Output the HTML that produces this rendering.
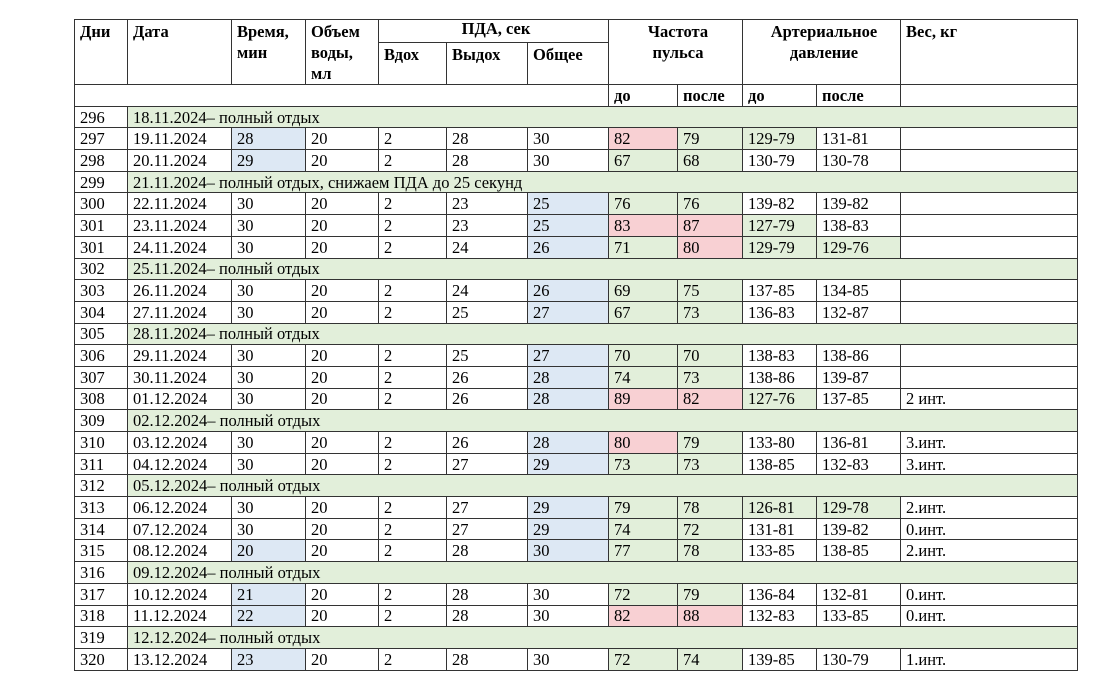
<!DOCTYPE html>
<html><head><meta charset="utf-8"><style>
html,body{margin:0;padding:0;background:#fff;width:1100px;height:682px;overflow:hidden}
table{position:absolute;left:74px;top:19px;border-collapse:collapse;table-layout:fixed;font-family:"Liberation Serif","Noto Serif CJK SC",serif;font-size:16.5px;color:#000;border:1.5px solid #333}
td{border:1px solid #333;padding:0 0 0 5px;height:20.7px;line-height:17px;white-space:nowrap;overflow:hidden;vertical-align:middle}
.h td{font-weight:bold;vertical-align:top;padding-top:1px;line-height:21px}
.h2 td{font-weight:bold;line-height:17px}
.c{text-align:center}
.g{background:#e2efda}.b{background:#dde8f4}.p{background:#f8d0d3}
</style></head><body>
<table>
<colgroup><col style="width:53px"><col style="width:104px"><col style="width:74px"><col style="width:73px"><col style="width:68px"><col style="width:81px"><col style="width:81px"><col style="width:69px"><col style="width:65px"><col style="width:74px"><col style="width:84px"><col style="width:177px"></colgroup>
<tr class="h" style="height:22px"><td rowspan="2">Дни</td><td rowspan="2">Дата</td><td rowspan="2">Время,<br>мин</td><td rowspan="2">Объем<br>воды,<br>мл</td><td colspan="3" class="c" style="height:20px;line-height:18px;padding-top:0">ПДА, сек</td><td colspan="2" rowspan="2" class="c">Частота<br>пульса</td><td colspan="2" rowspan="2" class="c">Артериальное<br>давление</td><td rowspan="2">Вес, кг</td></tr>
<tr class="h" style="height:40px"><td>Вдох</td><td>Выдох</td><td>Общее</td></tr>
<tr class="h2"><td colspan="7"></td><td>до</td><td>после</td><td>до</td><td>после</td><td></td></tr>
<tr><td>296</td><td colspan="11" class="g">18.11.2024– полный отдых</td></tr>
<tr><td>297</td><td>19.11.2024</td><td class="b">28</td><td>20</td><td>2</td><td>28</td><td>30</td><td class="p">82</td><td class="g">79</td><td class="g">129-79</td><td>131-81</td><td></td></tr>
<tr><td>298</td><td>20.11.2024</td><td class="b">29</td><td>20</td><td>2</td><td>28</td><td>30</td><td class="g">67</td><td class="g">68</td><td>130-79</td><td>130-78</td><td></td></tr>
<tr><td>299</td><td colspan="11" class="g">21.11.2024– полный отдых, снижаем ПДА до 25 секунд</td></tr>
<tr><td>300</td><td>22.11.2024</td><td>30</td><td>20</td><td>2</td><td>23</td><td class="b">25</td><td class="g">76</td><td class="g">76</td><td>139-82</td><td>139-82</td><td></td></tr>
<tr><td>301</td><td>23.11.2024</td><td>30</td><td>20</td><td>2</td><td>23</td><td class="b">25</td><td class="p">83</td><td class="p">87</td><td class="g">127-79</td><td>138-83</td><td></td></tr>
<tr><td>301</td><td>24.11.2024</td><td>30</td><td>20</td><td>2</td><td>24</td><td class="b">26</td><td class="g">71</td><td class="p">80</td><td class="g">129-79</td><td class="g">129-76</td><td></td></tr>
<tr><td>302</td><td colspan="11" class="g">25.11.2024– полный отдых</td></tr>
<tr><td>303</td><td>26.11.2024</td><td>30</td><td>20</td><td>2</td><td>24</td><td class="b">26</td><td class="g">69</td><td class="g">75</td><td>137-85</td><td>134-85</td><td></td></tr>
<tr><td>304</td><td>27.11.2024</td><td>30</td><td>20</td><td>2</td><td>25</td><td class="b">27</td><td class="g">67</td><td class="g">73</td><td>136-83</td><td>132-87</td><td></td></tr>
<tr><td>305</td><td colspan="11" class="g">28.11.2024– полный отдых</td></tr>
<tr><td>306</td><td>29.11.2024</td><td>30</td><td>20</td><td>2</td><td>25</td><td class="b">27</td><td class="g">70</td><td class="g">70</td><td>138-83</td><td>138-86</td><td></td></tr>
<tr><td>307</td><td>30.11.2024</td><td>30</td><td>20</td><td>2</td><td>26</td><td class="b">28</td><td class="g">74</td><td class="g">73</td><td>138-86</td><td>139-87</td><td></td></tr>
<tr><td>308</td><td>01.12.2024</td><td>30</td><td>20</td><td>2</td><td>26</td><td class="b">28</td><td class="p">89</td><td class="p">82</td><td class="g">127-76</td><td>137-85</td><td>2 инт.</td></tr>
<tr><td>309</td><td colspan="11" class="g">02.12.2024– полный отдых</td></tr>
<tr><td>310</td><td>03.12.2024</td><td>30</td><td>20</td><td>2</td><td>26</td><td class="b">28</td><td class="p">80</td><td class="g">79</td><td>133-80</td><td>136-81</td><td>3.инт.</td></tr>
<tr><td>311</td><td>04.12.2024</td><td>30</td><td>20</td><td>2</td><td>27</td><td class="b">29</td><td class="g">73</td><td class="g">73</td><td>138-85</td><td>132-83</td><td>3.инт.</td></tr>
<tr><td>312</td><td colspan="11" class="g">05.12.2024– полный отдых</td></tr>
<tr><td>313</td><td>06.12.2024</td><td>30</td><td>20</td><td>2</td><td>27</td><td class="b">29</td><td class="g">79</td><td class="g">78</td><td class="g">126-81</td><td class="g">129-78</td><td>2.инт.</td></tr>
<tr><td>314</td><td>07.12.2024</td><td>30</td><td>20</td><td>2</td><td>27</td><td class="b">29</td><td class="g">74</td><td class="g">72</td><td>131-81</td><td>139-82</td><td>0.инт.</td></tr>
<tr><td>315</td><td>08.12.2024</td><td class="b">20</td><td>20</td><td>2</td><td>28</td><td class="b">30</td><td class="g">77</td><td class="g">78</td><td>133-85</td><td>138-85</td><td>2.инт.</td></tr>
<tr><td>316</td><td colspan="11" class="g">09.12.2024– полный отдых</td></tr>
<tr><td>317</td><td>10.12.2024</td><td class="b">21</td><td>20</td><td>2</td><td>28</td><td>30</td><td class="g">72</td><td class="g">79</td><td>136-84</td><td>132-81</td><td>0.инт.</td></tr>
<tr><td>318</td><td>11.12.2024</td><td class="b">22</td><td>20</td><td>2</td><td>28</td><td>30</td><td class="p">82</td><td class="p">88</td><td>132-83</td><td>133-85</td><td>0.инт.</td></tr>
<tr><td>319</td><td colspan="11" class="g">12.12.2024– полный отдых</td></tr>
<tr><td>320</td><td>13.12.2024</td><td class="b">23</td><td>20</td><td>2</td><td>28</td><td>30</td><td class="g">72</td><td class="g">74</td><td>139-85</td><td>130-79</td><td>1.инт.</td></tr>
</table>
</body></html>
